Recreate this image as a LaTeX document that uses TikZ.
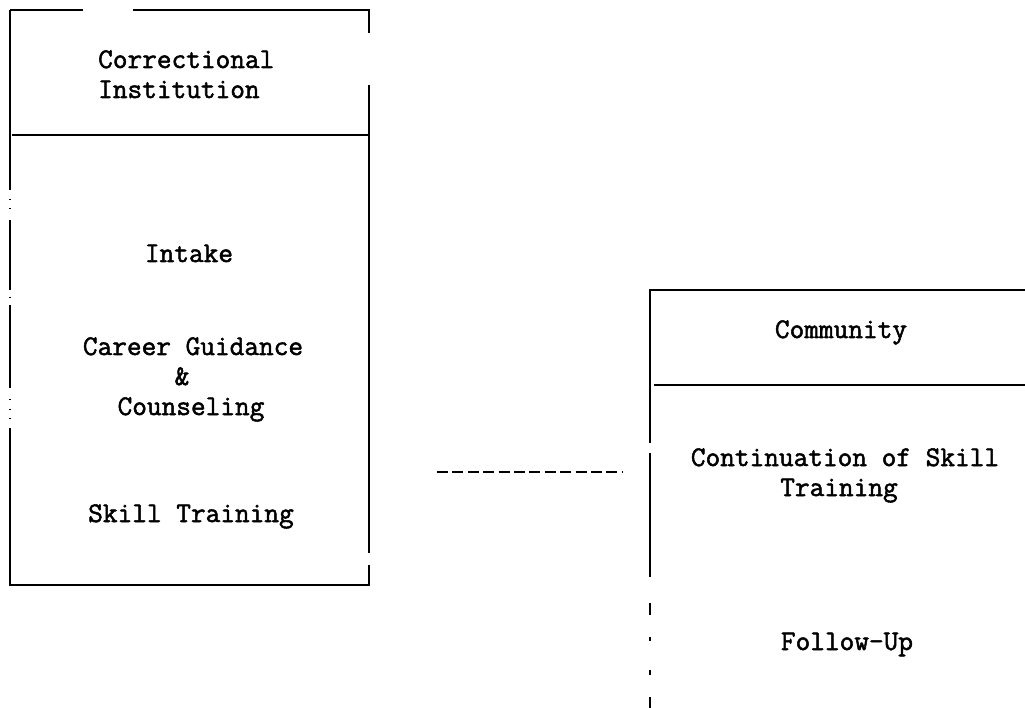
\documentclass[tikz,border=0pt]{standalone}
\usepackage{fontspec}
\newfontfamily\typewriter{Latin Modern Mono}[FakeBold=1.8]
\begin{document}
\begin{tikzpicture}[x=1pt,y=-1pt,
  rule/.style={line width=2.8pt},
  linkline/.style={line width=2.8pt, dash pattern=on 11pt off 4.4pt},
  txt/.style={font=\typewriter\fontsize{28.5}{30}\selectfont, inner sep=0pt, anchor=base},
  lefttxt/.style={txt, anchor=base west}]
\useasboundingbox (0,0) rectangle (1025,708);

% corners of the institution box
\coordinate (a1) at (10,10);
\coordinate (a2) at (369,10);
\coordinate (a3) at (369,585);
\coordinate (a4) at (10,585);

% institution box outline, typed with breaks
\draw[rule] (a1) -- (83,10);
\draw[rule] (133,10) -- (a2) -- (369,33);
\draw[rule] (369,85) -- (369,553);
\draw[rule] (369,565) -- (a3) -- (a4) -- (10,428);
\draw[rule] (10,418) -- (10,419);
\draw[rule] (10,409) -- (10,410);
\draw[rule] (10,399) -- (10,400);
\draw[rule] (10,388) -- (10,305);
\draw[rule] (10,297) -- (10,298);
\draw[rule] (10,290) -- (10,220);
\draw[rule] (10,208) -- (10,209);
\draw[rule] (10,199) -- (10,200);
\draw[rule] (10,190) -- (a1);
\draw[rule] (12,135) -- (369,135);

% community box outline
\coordinate (b1) at (650,290);
\coordinate (b2) at (1025,290);
\draw[rule] (b2) -- (b1) -- (650,443);
\draw[rule] (650,453) -- (650,577);
\draw[rule] (650,603) -- (650,615);
\draw[rule] (650,637) -- (650,641);
\draw[rule] (650,670) -- (650,675);
\draw[rule] (650,697) -- (650,708);
\draw[rule] (654,385) -- (1025,385);

% institution texts (single-spaced lines 30pt apart)
\node[lefttxt] (inst1) at (98,68) {Correctional};
\node[lefttxt] (inst2) at (98,98) {Institution};
\node[txt] (intake) at (189,262) {Intake};
\node[txt] (career) at (193,355) {Career Guidance};
\node[txt] (amp) at (182,385) {\&};
\node[txt] (couns) at (191,415) {Counseling};
\node[txt] (skill) at (191,522) {Skill Training};

% community texts
\node[txt] (comm) at (841,338) {Community};
\node[txt] (cont1) at (845,466) {Continuation of Skill};
\node[txt] (cont2) at (839,496) {Training};
\node[txt] (follow) at (847,650) {Follow-Up};

% link between the two settings
\coordinate (la) at (437,472);
\coordinate (lb) at (622,472);
\draw[linkline] (la) -- (lb);
\end{tikzpicture}
\end{document}
